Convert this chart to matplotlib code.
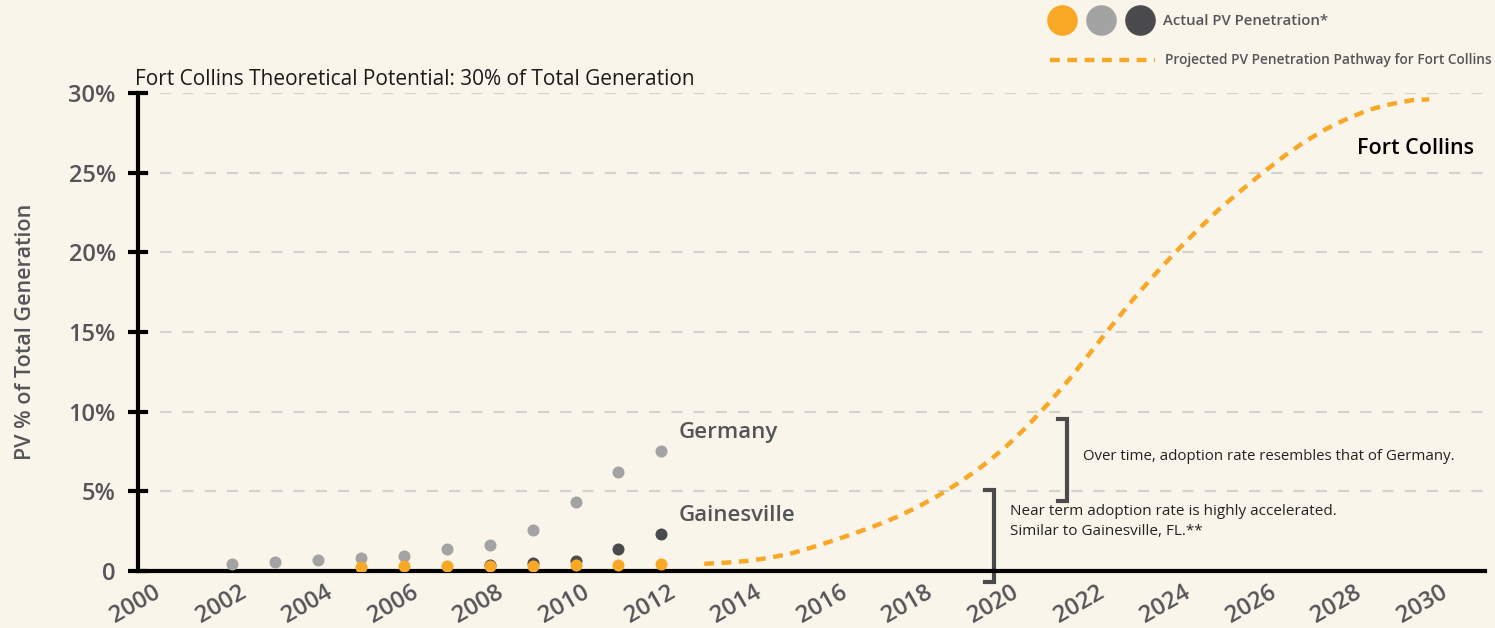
import matplotlib.pyplot as plt
from matplotlib.lines import Line2D
from matplotlib.transforms import ScaledTranslation

plt.rcParams['font.family'] = ['Open Sans', 'DejaVu Sans']

# actual PV penetration (% of total generation)
germany_years = [2002, 2003, 2004, 2005, 2006, 2007, 2008, 2009, 2010, 2011, 2012]
germany_vals = [0.41, 0.58, 0.66, 0.79, 0.91, 1.37, 1.6, 2.6, 4.3, 6.23, 7.56]

gainesville_years = [2008, 2009, 2010, 2011, 2012]
gainesville_vals = [0.4, 0.53, 0.61, 1.37, 2.29]

fortcollins_years = [2005, 2006, 2007, 2008, 2009, 2010, 2011, 2012]
fortcollins_vals = [0.28, 0.33, 0.33, 0.33, 0.33, 0.39, 0.39, 0.45]

# projected pathway for Fort Collins
proj_years = [2013.0, 2013.5, 2014.0, 2014.5, 2015.0, 2015.5, 2016.0, 2016.5, 2017.0,
              2017.5, 2018.0, 2018.5, 2019.0, 2019.5, 2020.0, 2020.5, 2021.0, 2021.5,
              2022.0, 2022.5, 2023.0, 2023.5, 2024.0, 2024.5, 2025.0, 2025.5, 2026.0,
              2026.5, 2027.0, 2027.5, 2028.0, 2028.5, 2029.0, 2029.5, 2029.9]
proj_vals = [0.45, 0.52, 0.63, 0.82, 1.08, 1.47, 1.90, 2.36, 2.85,
             3.40, 4.05, 4.80, 5.65, 6.62, 7.72, 9.0, 10.45, 12.0,
             13.7, 15.4, 17.05, 18.6, 20.05, 21.4, 22.7, 23.85, 24.95,
             26.0, 26.95, 27.75, 28.4, 28.95, 29.3, 29.55, 29.6]

x_ticks = list(range(2000, 2031, 2))
y_ticks = [0, 5, 10, 15, 20, 25, 30]
y_ticklabels = ['0', '5%', '10%', '15%', '20%', '25%', '30%']

BG = '#f9f5ea'
ORANGE = '#f9a825'
GRAY = '#a3a3a3'
DARK = '#4b4b4d'
TXT = '#555559'

fig = plt.figure(figsize=(14.95, 6.28), dpi=100, facecolor=BG)
ax = fig.add_axes([0.0923, 0.0908, 0.9010, 0.7611])
ax.set_facecolor(BG)

ax.set_xlim(1999.8, 2031.2)
ax.set_ylim(0, 30)

for v in y_ticks[1:]:
    ax.axhline(v, color='#d2d2d0', lw=1.6, dashes=(5, 5), zorder=0)

ax.scatter(germany_years, germany_vals, s=75, color=GRAY, zorder=3, lw=0)
ax.scatter(gainesville_years, gainesville_vals, s=75, color=DARK, zorder=4, lw=0)
ax.scatter(fortcollins_years, fortcollins_vals, s=75, color=ORANGE, zorder=5, lw=0)
ax.plot(proj_years, proj_vals, color=ORANGE, lw=3.2, dashes=(2.2, 1.7), zorder=2)

for s in ['top', 'right']:
    ax.spines[s].set_visible(False)
for s in ['left', 'bottom']:
    ax.spines[s].set_linewidth(3)
    ax.spines[s].set_color('black')

ax.set_yticks(y_ticks)
ax.set_yticklabels(y_ticklabels, fontsize=17, fontweight='semibold', color=TXT)
ax.tick_params(axis='y', direction='inout', length=14, width=3, pad=9)
ax.set_xticks(x_ticks)
ax.set_xticklabels([str(x) for x in x_ticks], fontsize=17, fontweight='semibold',
                   color=TXT, rotation=30, ha='center')
ax.tick_params(axis='x', length=0, pad=7)
shift = ScaledTranslation(-11 / 100, 0, fig.dpi_scale_trans)
for lab in ax.get_xticklabels():
    lab.set_transform(lab.get_transform() + shift)

ax.set_ylabel('PV % of Total Generation', fontsize=15.5, fontweight='semibold', color=TXT,
              labelpad=23)
ax.set_title('Fort Collins Theoretical Potential: 30% of Total Generation',
             loc='left', fontsize=15, color='#1a1a1a', pad=6, x=-0.002)

ax.text(2012.4, 8.7, 'Germany', fontsize=16, fontweight='semibold', color=TXT, va='center')
ax.text(2012.4, 3.5, 'Gainesville', fontsize=16, fontweight='semibold', color=TXT, va='center')
ax.text(2030.95, 26.5, 'Fort Collins', fontsize=15.5, fontweight='semibold', color='black',
        va='center', ha='right')

# brackets
bx1, by1a, by1b = 2021.45, 9.55, 4.4
ax.plot([bx1 - 0.2, bx1, bx1, bx1 - 0.2], [by1a, by1a, by1b, by1b], color=DARK, lw=3,
        solid_joinstyle='miter', clip_on=False)
ax.text(2021.82, 7.2, 'Over time, adoption rate resembles that of Germany.', fontsize=10.8,
        color='#222222', va='center')
bx2, by2a, by2b = 2019.75, 5.1, -0.7
ax.plot([bx2 - 0.2, bx2, bx2, bx2 - 0.2], [by2a, by2a, by2b, by2b], color=DARK, lw=3,
        solid_joinstyle='miter', clip_on=False)
ax.text(2020.12, 3.1, 'Near term adoption rate is highly accelerated.\nSimilar to Gainesville, FL.**',
        fontsize=11, color='#222222', va='center', linespacing=1.5)

# legend
for xf, c in [(1062, ORANGE), (1101, GRAY), (1140, DARK)]:
    fig.add_artist(Line2D([xf / 1495], [1 - 20 / 628], marker='o', markersize=21,
                          color=c, lw=0, transform=fig.transFigure))
fig.text(1163 / 1495, 1 - 21 / 628, 'Actual PV Penetration*', fontsize=10.7,
         fontweight='semibold', color=TXT, va='center')
fig.add_artist(Line2D([1050 / 1495, 1155 / 1495], [1 - 60 / 628, 1 - 60 / 628],
                      color=ORANGE, lw=3.2, dashes=(2.2, 1.7), transform=fig.transFigure))
fig.text(1165 / 1495, 1 - 60 / 628, 'Projected PV Penetration Pathway for Fort Collins',
         fontsize=9.9, fontweight='semibold', color=TXT, va='center')

fig.savefig('out.png', dpi=100, facecolor=BG)
